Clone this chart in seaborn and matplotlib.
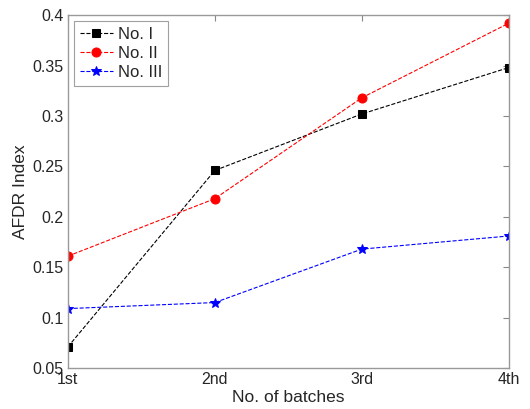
import matplotlib
matplotlib.use('Agg')
import matplotlib.pyplot as plt
import seaborn as sns
import pandas as pd

batches = ['1st', '2nd', '3rd', '4th']
no_1 = [0.071, 0.246, 0.302, 0.348]
no_2 = [0.161, 0.218, 0.318, 0.392]
no_3 = [0.109, 0.115, 0.168, 0.181]

sns.set_style("white")
plt.rcParams['font.family'] = ['Liberation Sans', 'DejaVu Sans']

df = pd.DataFrame({
    'x': list(range(4)) * 3,
    'y': no_1 + no_2 + no_3,
    'series': ['No. I'] * 4 + ['No. II'] * 4 + ['No. III'] * 4,
})

fig = plt.figure(figsize=(5.3, 4.09), dpi=100)
ax = fig.add_axes([0.128, 0.100, 0.832, 0.863])

styles = {
    'No. I': ('black', 's', 6),
    'No. II': ('red', 'o', 6.5),
    'No. III': ('blue', '*', 7.5),
}
for name, (color, marker, ms) in styles.items():
    sub = df[df['series'] == name]
    sns.lineplot(data=sub, x='x', y='y', ax=ax, color=color, marker=marker,
                 markersize=ms, markeredgecolor=color, linestyle='--',
                 linewidth=0.8, label=name)

ax.set_xlim(0, 3)
ax.set_ylim(0.05, 0.4)
ax.set_xticks(range(4))
ax.set_xticklabels(batches)
ax.set_yticks([0.05, 0.1, 0.15, 0.2, 0.25, 0.3, 0.35, 0.4])
ax.set_yticklabels(['0.05', '0.1', '0.15', '0.2', '0.25', '0.3', '0.35', '0.4'])
ax.tick_params(direction='in', length=4, color='#888888', labelsize=11.5,
               top=True, right=True, pad=3)
for sp in ax.spines.values():
    sp.set_color('#999999')
    sp.set_linewidth(1.0)

ax.set_xlabel('No. of batches', fontsize=12.5, labelpad=2)
ax.set_ylabel('AFDR Index', fontsize=12.5, labelpad=3)

leg = ax.legend(loc='upper left', fontsize=12, frameon=True, fancybox=False,
                edgecolor='#888888', handlelength=2.0, borderpad=0.35,
                labelspacing=0.25, handletextpad=0.3, borderaxespad=0.35)
leg.get_frame().set_linewidth(0.8)

fig.savefig('out.png', dpi=100)
